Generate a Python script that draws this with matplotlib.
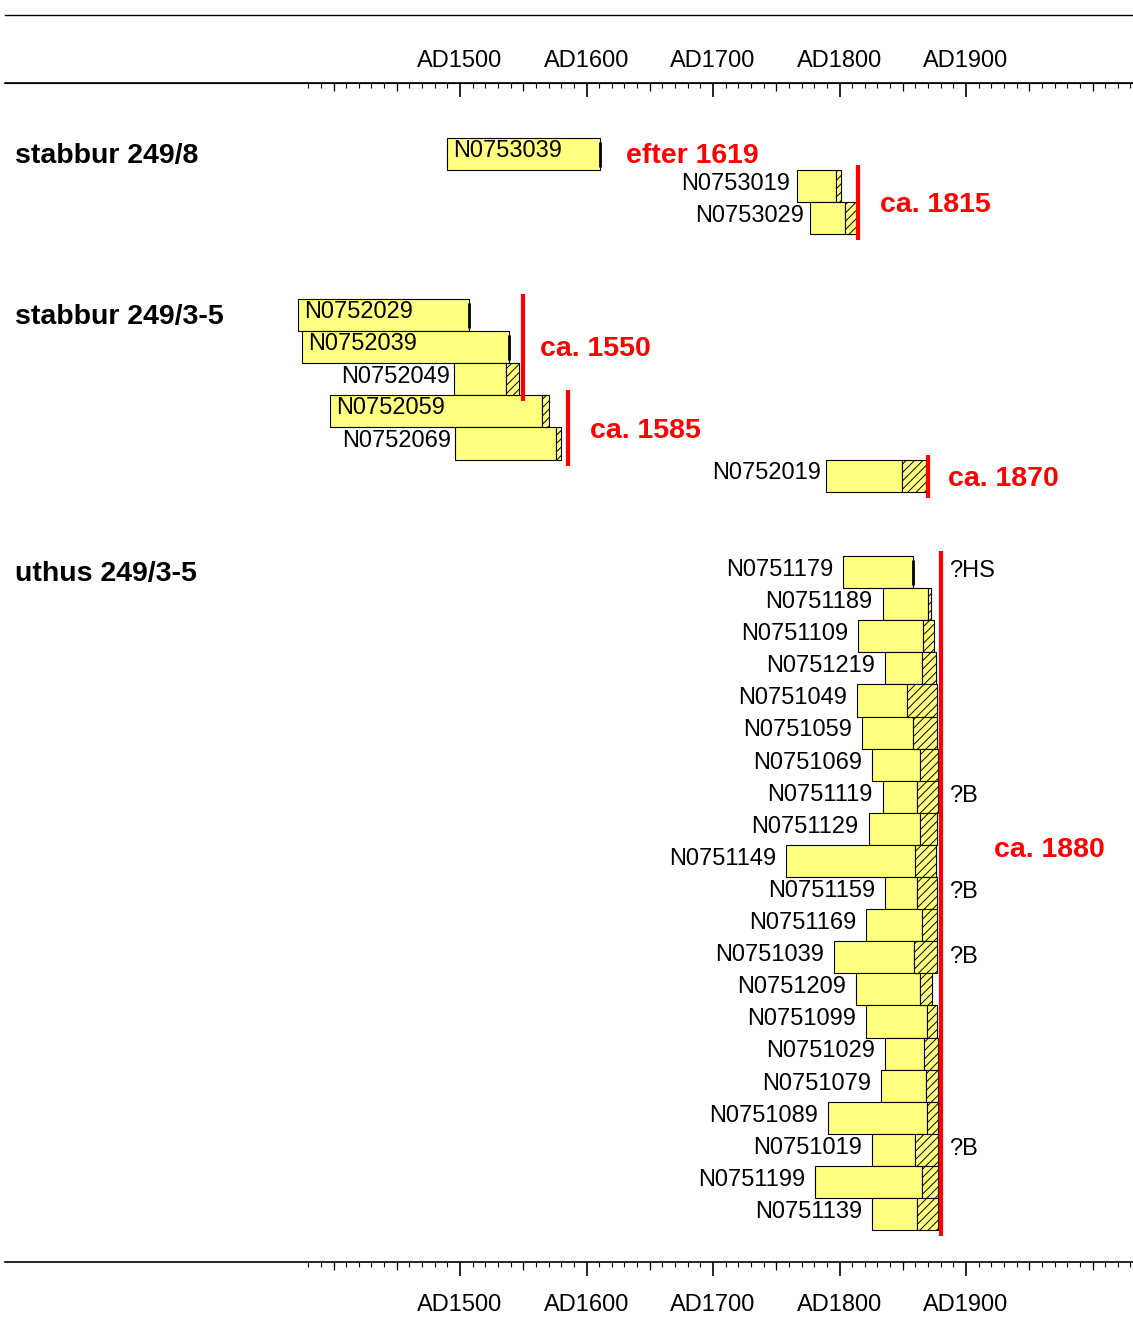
import numpy as np
import matplotlib
matplotlib.use('Agg')
import matplotlib.pyplot as plt
from matplotlib.lines import Line2D
from matplotlib.ticker import FixedLocator, FuncFormatter, NullFormatter
from matplotlib.transforms import blended_transform_factory

plt.rcParams['font.family'] = ['Liberation Sans', 'DejaVu Sans']
plt.rcParams['hatch.linewidth'] = 0.7

# stabbur 249/8
names_a = ['N0753039', 'N0753019', 'N0753029']
start_a = [1490, 1766, 1777]
heart_a = [1611, 1797, 1804]
sap_a = [1611, 1801, 1814]

# stabbur 249/3-5
names_b = ['N0752029', 'N0752039', 'N0752049', 'N0752059', 'N0752069', 'N0752019']
start_b = [1372, 1375, 1495, 1397, 1496, 1789]
heart_b = [1507, 1539, 1536, 1565, 1576, 1849]
sap_b = [1507, 1539, 1547, 1570, 1580, 1868]

# uthus 249/3-5
names_c = ['N0751179', 'N0751189', 'N0751109', 'N0751219', 'N0751049', 'N0751059',
           'N0751069', 'N0751119', 'N0751129', 'N0751149', 'N0751159', 'N0751169',
           'N0751039', 'N0751209', 'N0751099', 'N0751029', 'N0751079', 'N0751089',
           'N0751019', 'N0751199', 'N0751139']
start_c = [1803, 1834, 1815, 1836, 1814, 1818, 1826, 1834, 1823, 1758, 1836,
           1821, 1796, 1813, 1821, 1836, 1833, 1791, 1826, 1781, 1826]
heart_c = [1858, 1870, 1866, 1865, 1853, 1858, 1864, 1861, 1864, 1860, 1861,
           1865, 1859, 1864, 1869, 1867, 1868, 1869, 1860, 1865, 1861]
sap_c = [1858, 1872, 1875, 1876, 1877, 1877, 1878, 1878, 1877, 1876, 1877,
         1877, 1877, 1873, 1877, 1878, 1878, 1878, 1878, 1878, 1878]
notes_c = ['?HS', '', '', '', '', '', '', '?B', '', '', '?B', '', '?B', '',
           '', '', '', '', '?B', '', '']

groups = ['stabbur 249/8', 'stabbur 249/3-5', 'uthus 249/3-5']
inside = ['N0753039', 'N0752029', 'N0752039', 'N0752059']
bark = ['N0753039', 'N0752029', 'N0752039', 'N0751179']

# felling dates: year, group, first row, last row, label
fell_year = [1815, 1550, 1585, 1870, 1880]
fell_group = [0, 1, 1, 1, 2]
fell_rows = [(1, 2), (0, 2), (3, 4), (5, 5), (0, 20)]
fell_text = ['ca. 1815', 'ca. 1550', 'ca. 1585', 'ca. 1870', 'ca. 1880']
fell_text_x = [1832, 1563, 1603, 1886, 1922]
fell_text_y = [205, 349, 431, 479, 850]

yellow = '#ffff80'
row_h = 32.1
group_top = [138, 299, 556]
label_gap = [4.6, 3.0, 7.2]  # points between label and bar start

W, H = 1133, 1322
fig = plt.figure(figsize=(W / 100, H / 100), dpi=100)
ax = fig.add_axes([5 / W, 60 / H, 1128 / W, 1179 / H])
ax.set_xlim(1140.3, 2032)
ax.set_ylim(1262, 83)
for s in ['left', 'right']:
    ax.spines[s].set_visible(False)
for s in ['top', 'bottom']:
    ax.spines[s].set_linewidth(1.2)
ax.set_yticks([])

fig.add_artist(Line2D([5 / W, 1], [1 - 15 / H] * 2, transform=fig.transFigure,
                      color='black', lw=1))

major = [1500, 1600, 1700, 1800, 1900]
medium = [1400, 1450, 1550, 1650, 1750, 1850, 1950, 2000]
minor = list(range(1380, 2031, 10))
fmt = FuncFormatter(lambda v, p: 'AD%d' % v)


def scale(a, direction, pad):
    a.xaxis.set_major_locator(FixedLocator(major))
    a.xaxis.set_minor_locator(FixedLocator(minor))
    a.xaxis.set_major_formatter(fmt)
    a.tick_params(axis='x', which='major', direction=direction, length=10, width=1.2,
                  labelsize=17, pad=pad)
    a.tick_params(axis='x', which='minor', direction=direction, length=3.6, width=0.8)


def medium_ticks(a, direction):
    a.xaxis.set_major_locator(FixedLocator(medium))
    a.xaxis.set_minor_locator(FixedLocator([]))
    a.xaxis.set_major_formatter(NullFormatter())
    a.tick_params(axis='x', which='major', direction=direction, length=5.8, width=0.9)
    for s in a.spines.values():
        s.set_visible(False)


scale(ax, 'out', 13)
sec_top = ax.secondary_xaxis('top')
scale(sec_top, 'in', 8)
medium_ticks(ax.secondary_xaxis('bottom'), 'out')
medium_ticks(ax.secondary_xaxis('top'), 'in')

text_x = blended_transform_factory(fig.transFigure, ax.transData)


def draw_group(top, names, start, heart, sap, gap):
    y = top + row_h * (np.arange(len(names)) + 0.5)
    s, h, p = np.array(start), np.array(heart), np.array(sap)
    ax.barh(y, h - s, left=s, height=row_h, color=yellow, edgecolor='black', linewidth=0.8)
    m = p > h
    ax.barh(y[m], (p - h)[m], left=h[m], height=row_h, color=yellow, edgecolor='black',
            linewidth=0.8, hatch='////')
    for yi, n, si, pi in zip(y, names, s, p):
        if n in inside:
            ax.annotate(n, (si, yi), xytext=(4.3, 2.5), textcoords='offset points',
                        ha='left', va='center', fontsize=17)
        else:
            ax.annotate(n, (si, yi), xytext=(-gap, 1.5), textcoords='offset points',
                        ha='right', va='center', fontsize=17)
        if n in bark:
            ax.vlines(pi, yi - row_h / 2 + 4, yi + row_h / 2 - 3, color='black', lw=2)
    return y


ys = []
for g, top, gap, args in zip(groups, group_top, label_gap,
                             [(names_a, start_a, heart_a, sap_a),
                              (names_b, start_b, heart_b, sap_b),
                              (names_c, start_c, heart_c, sap_c)]):
    y = draw_group(top, *args, gap)
    ys.append(y)
    ax.text(15 / W, y[0] + 1.5, g, transform=text_x, ha='left', va='center',
            fontsize=20.5, fontweight='bold')

for yi, note in zip(ys[2], notes_c):
    if note:
        ax.annotate(note, (1880, yi), xytext=(6, 0.5), textcoords='offset points',
                    ha='left', va='center', fontsize=17)

for yr, g, (r0, r1), t, tx, ty in zip(fell_year, fell_group, fell_rows, fell_text,
                                       fell_text_x, fell_text_y):
    y = ys[g]
    ax.vlines(yr, y[r0] - row_h / 2 - 5, y[r1] + row_h / 2 + 6, color='red', lw=3)
    ax.text(tx, ty, t, color='red', fontsize=20.5, fontweight='bold', ha='left', va='center')

ax.text(1631, 156, 'efter 1619', color='red', fontsize=20.5, fontweight='bold',
        ha='left', va='center')

fig.savefig('out.png', dpi=100)
